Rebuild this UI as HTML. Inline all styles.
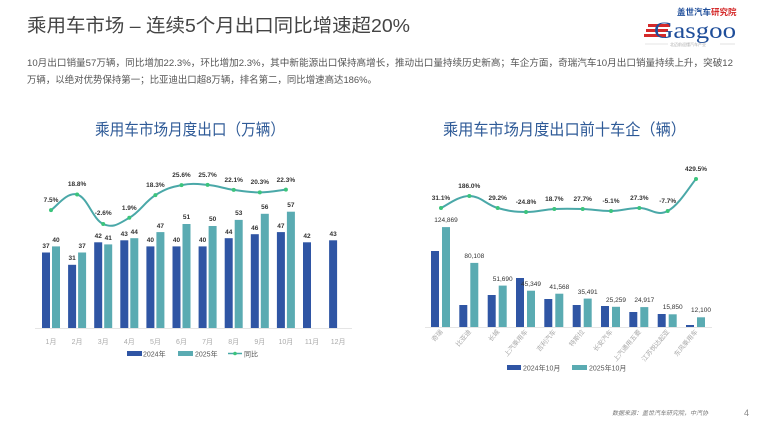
<!DOCTYPE html>
<html><head><meta charset="utf-8"><style>
html,body{margin:0;padding:0;background:#fff;}
svg{display:block;font-family:"Liberation Sans","Noto Sans CJK SC",sans-serif;}
</style></head><body>
<svg width="760" height="428" viewBox="0 0 760 428" xmlns="http://www.w3.org/2000/svg">
<rect width="760" height="428" fill="#fff"/>
<!-- header -->
<text x="27" y="32" font-size="18.5" fill="#444" textLength="383" lengthAdjust="spacingAndGlyphs">乘用车市场 – 连续5个月出口同比增速超20%</text>
<text x="677" y="15" font-size="8.5" font-weight="bold" fill="#1f4e9a">盖世汽车<tspan fill="#d42a2a">研究院</tspan></text>
<rect x="648" y="24" width="22" height="3" fill="#d42a2a"/><rect x="646" y="29" width="22" height="3" fill="#d42a2a"/><rect x="644" y="34" width="22" height="3" fill="#d42a2a"/>
<text x="654" y="38" font-size="23" font-family="Liberation Serif,serif" fill="#1f4e9a" textLength="82" lengthAdjust="spacingAndGlyphs">Gasgoo</text>
<line x1="645" y1="44" x2="668" y2="44" stroke="#ccc" stroke-width="0.6"/><line x1="720" y1="44" x2="735" y2="44" stroke="#ccc" stroke-width="0.6"/>
<text x="670" y="46" font-size="4" fill="#aaa">北迈前迎懂汽车产业</text>
<text x="27" y="66" font-size="9.5" fill="#555" textLength="706" lengthAdjust="spacingAndGlyphs">10月出口销量57万辆，同比增加22.3%，环比增加2.3%，其中新能源出口保持高增长，推动出口量持续历史新高；车企方面，奇瑞汽车10月出口销量持续上升，突破12</text>
<text x="27" y="83" font-size="9.5" fill="#555" textLength="350" lengthAdjust="spacingAndGlyphs">万辆，以绝对优势保持第一；比亚迪出口超8万辆，排名第二，同比增速高达186%。</text>

<!-- left chart -->
<text x="95" y="135" font-size="16" fill="#2e5a97" textLength="190" lengthAdjust="spacingAndGlyphs">乘用车市场月度出口（万辆）</text>
<line x1="35" y1="328.5" x2="352" y2="328.5" stroke="#ddd" stroke-width="0.8"/>
<g fill="#2f55a4">
<rect x="42" y="252.5" width="8" height="75.5"/><rect x="68.1" y="264.8" width="8" height="63.2"/><rect x="94.2" y="242.3" width="8" height="85.7"/><rect x="120.3" y="240.3" width="8" height="87.7"/><rect x="146.4" y="246.4" width="8" height="81.6"/><rect x="172.5" y="246.4" width="8" height="81.6"/><rect x="198.6" y="246.4" width="8" height="81.6"/><rect x="224.7" y="238.2" width="8" height="89.8"/><rect x="250.8" y="234.2" width="8" height="93.8"/><rect x="276.9" y="232.1" width="8" height="95.9"/><rect x="303" y="242.3" width="8" height="85.7"/><rect x="329.1" y="240.3" width="8" height="87.7"/>
</g>
<g fill="#5aabb2">
<rect x="52" y="246.4" width="8" height="81.6"/><rect x="78.1" y="252.5" width="8" height="75.5"/><rect x="104.2" y="244.4" width="8" height="83.6"/><rect x="130.3" y="238.2" width="8" height="89.8"/><rect x="156.4" y="232.1" width="8" height="95.9"/><rect x="182.5" y="224" width="8" height="104"/><rect x="208.6" y="226" width="8" height="102"/><rect x="234.7" y="219.9" width="8" height="108.1"/><rect x="260.8" y="213.8" width="8" height="114.2"/><rect x="286.9" y="211.7" width="8" height="116.3"/>
</g>
<g font-size="6.5" font-weight="bold" fill="#333" text-anchor="middle">
<text x="46" y="248">37</text><text x="72.1" y="260">31</text><text x="98.2" y="238">42</text><text x="124.3" y="236">43</text><text x="150.4" y="242">40</text><text x="176.5" y="242">40</text><text x="202.6" y="242">40</text><text x="228.7" y="234">44</text><text x="254.8" y="230">46</text><text x="280.9" y="228">47</text><text x="307" y="238">42</text><text x="333.1" y="236">43</text>
<text x="56" y="242">40</text><text x="82.1" y="248">37</text><text x="108.2" y="240">41</text><text x="134.3" y="234">44</text><text x="160.4" y="228">47</text><text x="186.5" y="219">51</text><text x="212.6" y="221">50</text><text x="238.7" y="215">53</text><text x="264.8" y="209">56</text><text x="290.9" y="207">57</text>
</g>
<path id="lp" fill="none" stroke="#4aa8a8" stroke-width="2"/>
<g fill="#3cc47c" id="ld"></g>
<g font-size="6.5" font-weight="bold" fill="#333" text-anchor="middle">
<text x="51" y="202">7.5%</text><text x="77.1" y="186">18.8%</text><text x="103.2" y="215">-2.6%</text><text x="129.3" y="210">1.9%</text><text x="155.4" y="187">18.3%</text><text x="181.5" y="177">25.6%</text><text x="207.6" y="177">25.7%</text><text x="233.7" y="182">22.1%</text><text x="259.8" y="184">20.3%</text><text x="285.9" y="182">22.3%</text>
</g>
<g font-size="7" fill="#aaa" text-anchor="middle">
<text x="51" y="344">1月</text><text x="77.1" y="344">2月</text><text x="103.2" y="344">3月</text><text x="129.3" y="344">4月</text><text x="155.4" y="344">5月</text><text x="181.5" y="344">6月</text><text x="207.6" y="344">7月</text><text x="233.7" y="344">8月</text><text x="259.8" y="344">9月</text><text x="285.9" y="344">10月</text><text x="312" y="344">11月</text><text x="338.1" y="344">12月</text>
</g>
<rect x="127" y="351" width="15" height="5" fill="#2f55a4"/><text x="143" y="356.5" font-size="7" fill="#555">2024年</text>
<rect x="178" y="351" width="15" height="5" fill="#5aabb2"/><text x="195" y="356.5" font-size="7" fill="#555">2025年</text>
<line x1="228" y1="353.5" x2="242" y2="353.5" stroke="#4aa8a8" stroke-width="1.5"/><circle cx="235" cy="353.5" r="1.8" fill="#3cc47c"/><text x="244" y="356.5" font-size="7" fill="#555">同比</text>

<!-- right chart -->
<text x="443" y="135" font-size="16" fill="#2e5a97" textLength="243" lengthAdjust="spacingAndGlyphs">乘用车市场月度出口前十车企（辆）</text>
<line x1="425" y1="327.5" x2="712" y2="327.5" stroke="#ddd" stroke-width="0.8"/>
<g fill="#2f55a4">
<rect x="431" y="251" width="8" height="76"/><rect x="459.3" y="305" width="8" height="22"/><rect x="487.7" y="295" width="8" height="32"/><rect x="516" y="278" width="8" height="49"/><rect x="544.3" y="299" width="8" height="28"/><rect x="572.7" y="305" width="8" height="22"/><rect x="601" y="306" width="8" height="21"/><rect x="629.3" y="312" width="8" height="15"/><rect x="657.7" y="314" width="8" height="13"/><rect x="686" y="325" width="8" height="2"/>
</g>
<g fill="#5aabb2">
<rect x="442" y="227.1" width="8" height="99.9"/><rect x="470.3" y="262.9" width="8" height="64.1"/><rect x="498.7" y="285.6" width="8" height="41.4"/><rect x="527" y="290.7" width="8" height="36.3"/><rect x="555.3" y="293.7" width="8" height="33.3"/><rect x="583.7" y="298.6" width="8" height="28.4"/><rect x="612" y="306.8" width="8" height="20.2"/><rect x="640.3" y="307.1" width="8" height="19.9"/><rect x="668.7" y="314.3" width="8" height="12.7"/><rect x="697" y="317.3" width="8" height="9.7"/>
</g>
<g font-size="6.5" fill="#333" text-anchor="middle">
<text x="446" y="222">124,869</text><text x="474.3" y="258">80,108</text><text x="502.7" y="281">51,690</text><text x="531" y="286">45,349</text><text x="559.3" y="289">41,568</text><text x="587.7" y="294">35,491</text><text x="616" y="302">25,259</text><text x="644.3" y="302">24,917</text><text x="672.7" y="309">15,850</text><text x="701" y="312">12,100</text>
</g>
<path id="rp" fill="none" stroke="#4aa8a8" stroke-width="2"/>
<g fill="#3cc47c" id="rd"></g>
<g font-size="6.5" font-weight="bold" fill="#333" text-anchor="middle">
<text x="441" y="200">31.1%</text><text x="469.3" y="188">186.0%</text><text x="497.7" y="200">29.2%</text><text x="526" y="204">-24.8%</text><text x="554.3" y="201">18.7%</text><text x="582.7" y="201">27.7%</text><text x="611" y="203">-5.1%</text><text x="639.3" y="200">27.3%</text><text x="667.7" y="203">-7.7%</text><text x="696" y="171">429.5%</text>
</g>
<g font-size="6.5" fill="#aaa" text-anchor="end">
<text transform="translate(443,332) rotate(-50)">奇瑞</text><text transform="translate(471.3,332) rotate(-50)">比亚迪</text><text transform="translate(499.7,332) rotate(-50)">长城</text><text transform="translate(528,332) rotate(-50)">上汽乘用车</text><text transform="translate(556.3,332) rotate(-50)">吉利汽车</text><text transform="translate(584.7,332) rotate(-50)">特斯拉</text><text transform="translate(613,332) rotate(-50)">长安汽车</text><text transform="translate(641.3,332) rotate(-50)">上汽通用五菱</text><text transform="translate(669.7,332) rotate(-50)">江苏悦达起亚</text><text transform="translate(698,332) rotate(-50)">东风乘用车</text>
</g>
<rect x="507" y="365" width="14" height="5" fill="#2f55a4"/><text x="523" y="370.5" font-size="7" fill="#555">2024年10月</text>
<rect x="572" y="365" width="15" height="5" fill="#5aabb2"/><text x="589" y="370.5" font-size="7" fill="#555">2025年10月</text>

<text x="612" y="415" font-size="6" font-style="italic" fill="#777">数据来源：盖世汽车研究院，中汽协</text>
<text x="744" y="416" font-size="9" fill="#888">4</text>
</svg>
<script>
function smooth(pts){var d="M"+pts[0][0]+","+pts[0][1];for(var i=0;i<pts.length-1;i++){var p0=pts[i-1]||pts[i],p1=pts[i],p2=pts[i+1],p3=pts[i+2]||p2;var t=0.2;d+=" C"+(p1[0]+(p2[0]-p0[0])*t)+","+(p1[1]+(p2[1]-p0[1])*t)+" "+(p2[0]-(p3[0]-p1[0])*t)+","+(p2[1]-(p3[1]-p1[1])*t)+" "+p2[0]+","+p2[1];}return d;}
function draw(pid,gid,xs,ys){var pts=xs.map(function(x,i){return[x,ys[i]]});document.getElementById(pid).setAttribute("d",smooth(pts));var g=document.getElementById(gid);pts.forEach(function(p){var c=document.createElementNS("http://www.w3.org/2000/svg","circle");c.setAttribute("cx",p[0]);c.setAttribute("cy",p[1]);c.setAttribute("r",2);g.appendChild(c);});}
draw("lp","ld",[51,77.1,103.2,129.3,155.4,181.5,207.6,233.7,259.8,285.9],[210.1,194.5,224,217.8,195.1,185.1,184.9,189.9,192.4,189.6]);
draw("rp","rd",[441,469.3,497.7,526,554.3,582.7,611,639.3,667.7,696],[208,196,208,212,209,209,211,208,211,179]);
</script>
</body></html>
